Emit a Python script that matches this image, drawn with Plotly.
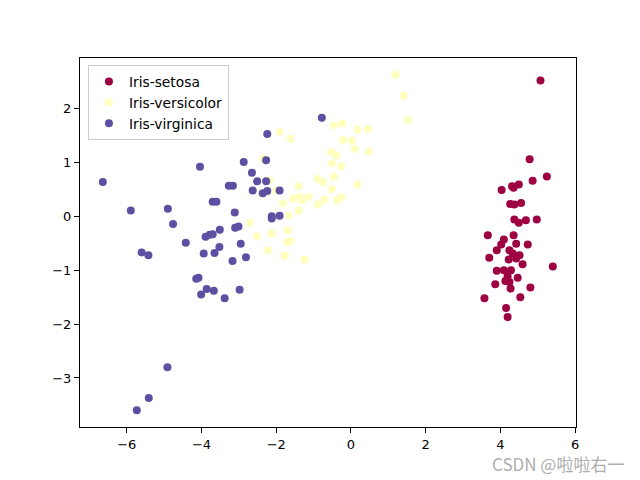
import plotly.graph_objects as go

setosa_x = [5.07, 4.78, 5.24, 4.86, 4.03, 4.31, 4.49, 4.35, 4.26, 4.37, 4.55, 4.37, 4.49, 4.68, 4.97,
            3.66, 4.35, 4.09, 4.42, 4.73, 4.02, 3.90, 4.24, 4.33, 4.51, 3.70, 4.22, 4.42, 5.40, 4.59,
            3.90, 4.09, 4.28, 4.19, 4.46, 4.13, 3.86, 4.24, 4.80, 4.27, 3.57, 4.53, 4.15, 4.19]
setosa_y = [2.52, 1.06, 0.74, 0.66, 0.49, 0.56, 0.59, 0.53, 0.23, 0.22, 0.25, -0.06, -0.12, -0.07, -0.06,
            -0.35, -0.35, -0.43, -0.51, -0.52, -0.52, -0.63, -0.63, -0.69, -0.72, -0.77, -0.80, -0.78, -0.93, -0.89,
            -1.01, -1.00, -1.00, -1.11, -1.14, -1.20, -1.26, -1.22, -1.32, -1.34, -1.52, -1.50, -1.70, -1.87]

versicolor_x = [-1.91, -1.62, -2.36, -2.18, -2.37, -2.00, -1.40, -1.82, -1.56, -1.38, -1.30, -1.13, -0.89, -0.71,
                -1.40, -1.66, -2.71, -1.69, -2.52, -2.12, -1.71, -1.62, -2.22, -1.77, -1.24, -0.89, -0.75, -0.51,
                -0.46, -0.38, -0.26, -0.51, -0.26, -0.53, -0.40, -0.46, -0.24, -0.22, 0.02, 0.09, 0.18, 0.17,
                1.19, 1.41, 1.52, 0.45, 0.48]
versicolor_y = [1.57, 1.44, 1.07, 0.67, 0.42, 0.48, 0.56, 0.25, 0.33, 0.36, 0.30, 0.36, 0.22, 0.31,
                0.11, 0.01, -0.12, -0.26, -0.37, -0.32, -0.48, -0.46, -0.63, -0.73, -0.80, 0.70, 0.64, 0.51,
                0.74, 0.30, 0.35, 0.98, 0.93, 1.19, 1.13, 1.69, 1.73, 1.42, 1.41, 1.25, 1.61, 0.59,
                2.63, 2.24, 1.79, 1.62, 1.20]

virginica_x = [-6.64, -4.04, -5.89, -4.90, -4.76, -3.70, -3.60, -3.51, -3.78, -3.89, -3.70, -4.42, -3.52,
               -3.65, -3.94, -5.60, -5.42, -4.14, -4.08, -4.01, -3.86, -3.67, -3.38, -3.27, -4.91, -5.41,
               -5.73, -0.78, -2.24, -2.27, -2.87, -2.65, -2.51, -2.27, -3.16, -2.63, -2.36, -2.24, -1.91,
               -3.11, -2.12, -1.91, -2.12, -3.10, -3.01, -2.95, -3.17, -2.81, -2.98]
virginica_y = [0.64, 0.92, 0.11, 0.14, -0.14, 0.27, 0.27, -0.25, -0.34, -0.38, -0.33, -0.49, -0.57,
               -0.68, -0.69, -0.67, -0.72, -1.16, -1.14, -1.45, -1.35, -1.38, -1.52, 0.57, -2.80, -3.37,
               -3.60, 1.83, 1.53, 1.04, 1.01, 0.81, 0.65, 0.65, 0.57, 0.48, 0.43, 0.47, 0.48,
               0.07, 0.00, 0.01, -0.04, -0.21, -0.19, -0.51, -0.83, -0.76, -1.36]

names = ["Iris-setosa", "Iris-versicolor", "Iris-virginica"]
colors = ["#9e0142", "#ffffbf", "#5e4fa2"]
xs = [setosa_x, versicolor_x, virginica_x]
ys = [setosa_y, versicolor_y, virginica_y]

fig = go.Figure()
for n, c, x, y in zip(names, colors, xs, ys):
    fig.add_trace(go.Scatter(x=x, y=y, mode="markers", name=n,
                             marker=dict(color=c, size=8, line=dict(width=0))))

axis_common = dict(showgrid=False, zeroline=False, showline=True, linecolor="black", linewidth=1,
                   mirror=True, ticks="outside", ticklen=5, tickcolor="black",
                   tickfont=dict(family="DejaVu Sans", size=13, color="black"))
fig.update_xaxes(range=[-7.25, 6.02], tickvals=[-6, -4, -2, 0, 2, 4, 6],
                 ticktext=["\u22126", "\u22124", "\u22122", "0", "2", "4", "6"], **axis_common)
fig.update_yaxes(range=[-3.91, 2.94], tickvals=[-3, -2, -1, 0, 1, 2],
                 ticktext=["\u22123", "\u22122", "\u22121", "0", "1", "2"], **axis_common)

fig.update_layout(
    width=640, height=480,
    margin=dict(l=80, r=64, t=58, b=53),
    paper_bgcolor="white", plot_bgcolor="white",
    font=dict(family="DejaVu Sans", size=13, color="black"),
    legend=dict(x=0.016, y=0.981, xanchor="left", yanchor="top",
                bordercolor="#cccccc", borderwidth=1, bgcolor="rgba(255,255,255,0.8)",
                font=dict(family="DejaVu Sans", size=13.8), tracegroupgap=0),
    showlegend=True,
)
fig.add_annotation(text="CSDN @啦啦右一", xref="paper", yref="paper", x=1.1, y=-0.1,
                   xanchor="right", yanchor="middle", showarrow=False,
                   font=dict(family="Noto Sans CJK SC", size=17, color="rgba(150,150,150,0.8)"))

fig.write_html("out.html", config={"displayModeBar": False},
               post_script="document.body.style.margin='0';document.body.style.overflow='hidden';")
